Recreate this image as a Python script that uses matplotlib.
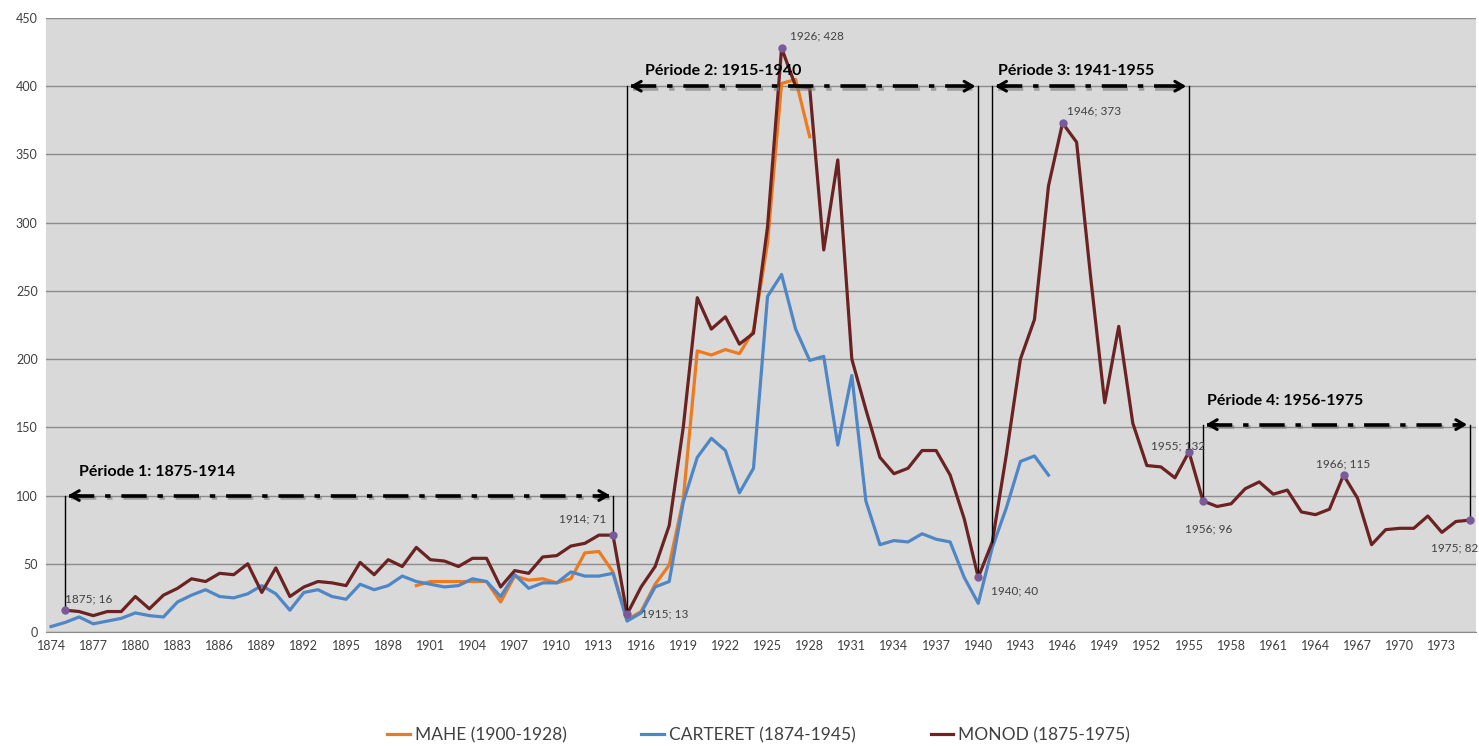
import matplotlib
matplotlib.use("Agg")
import matplotlib.pyplot as plt
import matplotlib.patheffects as pe
from matplotlib import font_manager
import numpy as np

plt.rcParams['font.family'] = ['Lato', 'DejaVu Sans']

# ---------------- data ----------------
mahe_years = list(range(1900, 1929))
mahe = [34, 37, 37, 37, 37, 37, 22, 41, 38, 39, 36, 39, 58, 59, 44, 9, 15, 35, 49, 97,
        206, 203, 207, 204, 221, 285, 402, 405, 363]

carteret_years = list(range(1874, 1946))
carteret = [4, 7, 11, 6, 8, 10, 14, 12, 11, 22, 27, 31, 26, 25, 28, 34, 28, 16, 29, 31,
            26, 24, 35, 31, 34, 41, 37, 35, 33, 34, 39, 37, 26, 42, 32, 36, 36, 44, 41, 41,
            43, 8, 14, 33, 37, 95, 128, 142, 133, 102, 120, 246, 262, 222, 199, 202, 137, 188,
            96, 64, 67, 66, 72, 68, 66, 40, 21, 62, 91, 125, 129, 115]

monod_years = list(range(1875, 1976))
monod = [16, 15, 12, 15, 15, 26, 17, 27, 32, 39, 37, 43, 42, 50, 29, 47, 26, 33, 37, 36,
         34, 51, 42, 53, 48, 62, 53, 52, 48, 54, 54, 33, 45, 43, 55, 56, 63, 65, 71, 71,
         13, 33, 48, 78, 150, 245, 222, 231, 211, 219, 297, 428, 400, 399, 280, 346, 200, 163,
         128, 116, 120, 133, 133, 115, 83, 40, 66, 130, 200, 229, 327, 373, 359, 260, 168, 224,
         153, 122, 121, 113, 132, 96, 92, 94, 105, 110, 101, 104, 88, 86, 90, 115, 98, 64,
         75, 76, 76, 85, 73, 81, 82]

labeled_years = [1875, 1914, 1915, 1926, 1940, 1946, 1955, 1956, 1966, 1975]

# periods: start, end, arrow level, label
periods = [(1875, 1914, 100, "Période 1: 1875-1914"),
           (1915, 1940, 400, "Période 2: 1915-1940"),
           (1941, 1955, 400, "Période 3: 1941-1955"),
           (1956, 1975, 152, "Période 4: 1956-1975")]

xtick_years = list(range(1874, 1976, 3))
ytick_vals = list(range(0, 451, 50))

# ---------------- figure ----------------
W, H = 1479, 746
fig = plt.figure(figsize=(W / 100, H / 100), dpi=100)
ax = fig.add_axes([46 / W, 1 - 632 / H, (1476 - 46) / W, (632 - 18) / H])
ax.set_facecolor('#D9D9D9')

c_mahe = '#EE7A1E'
c_car = '#4F86C6'
c_mon = '#6B2222'

ax.set_xlim(1873.64, 1975.43)
ax.set_ylim(0, 450)
ax.set_yticks(ytick_vals)
ax.set_xticks(xtick_years)
ax.tick_params(axis='both', labelsize=9, colors='#404040', length=0, pad=6)
ax.grid(axis='y', color='#8C8C8C', lw=1.0)
ax.set_axisbelow(True)
for s in ['left', 'right', 'top']:
    ax.spines[s].set_visible(False)
ax.spines['bottom'].set_color('#8C8C8C')

ax.plot(mahe_years, mahe, color=c_mahe, lw=2.3, label='MAHE (1900-1928)', zorder=3)
ax.plot(carteret_years, carteret, color=c_car, lw=2.3, label='CARTERET (1874-1945)', zorder=3)
ax.plot(monod_years, monod, color=c_mon, lw=2.3, label='MONOD (1875-1975)', zorder=4)

mon = dict(zip(monod_years, monod))

# period arrows
for (a, b, lvl, txt) in periods:
    ax.plot([a, a], [lvl, mon[a]], color='black', lw=1.0, zorder=5)
    ax.plot([b, b], [lvl, mon[b]], color='black', lw=1.0, zorder=5)
    ax.plot([a + 0.3, b - 0.3], [lvl, lvl], color='black', lw=2.6, ls=(0, (7, 3, 1.5, 3)),
            zorder=6, path_effects=[pe.SimpleLineShadow(offset=(1, -2), shadow_color='#7a7a7a', alpha=0.6),
                                    pe.Normal()])
    ax.annotate('', xy=(a, lvl), xytext=(a + 1.2, lvl),
                arrowprops=dict(arrowstyle='->,head_length=0.6,head_width=0.35', color='black', lw=2.2),
                zorder=7)
    ax.annotate('', xy=(b, lvl), xytext=(b - 1.2, lvl),
                arrowprops=dict(arrowstyle='->,head_length=0.6,head_width=0.35', color='black', lw=2.2),
                zorder=7)

label_pos = {
    (1875, 1914): (1876.0, 117),
    (1915, 1940): (1916.3, 411),
    (1941, 1955): (1941.4, 411),
    (1956, 1975): (1956.3, 169),
}
for (a, b, lvl, txt) in periods:
    x, y = label_pos[(a, b)]
    ax.text(x, y, txt, fontsize=11.5, fontweight='bold', color='black', va='center', ha='left', zorder=8)

# labeled points
lab_off = {1875: (0, 8, 'left'), 1914: (-22, 12, 'center'), 1915: (10, 0, 'left'),
           1926: (6, 9, 'left'), 1940: (9, -10, 'left'), 1946: (3, 9, 'left'),
           1955: (-27, 4, 'left'), 1956: (-13, -20, 'left'), 1966: (0, 8, 'center'),
           1975: (-28, -20, 'left')}
for yr in labeled_years:
    v = mon[yr]
    ax.plot([yr], [v], 'o', color='#7B5A9A', ms=5, zorder=9)
    dx, dy, ha = lab_off[yr]
    ax.annotate(f"{yr}; {v}", xy=(yr, v), xytext=(dx, dy), textcoords='offset points',
                fontsize=8.5, color='#404040', ha=ha, va='center', zorder=9)

narrow = None
for f in font_manager.fontManager.ttflist:
    if f.name == 'Liberation Sans Narrow':
        narrow = f.name
        break
leg_family = [narrow, 'Lato', 'DejaVu Sans'] if narrow else ['Lato', 'DejaVu Sans']
leg = fig.legend(loc='center', bbox_to_anchor=(0.513, 1 - 735 / H), ncol=3, frameon=False,
                 prop={'family': leg_family, 'size': 14 if narrow else 12.5},
                 handlelength=1.3, handletextpad=0.3, columnspacing=4.3)
for t in leg.get_texts():
    t.set_color('#404040')

fig.savefig('out.png', dpi=100, facecolor='white')
